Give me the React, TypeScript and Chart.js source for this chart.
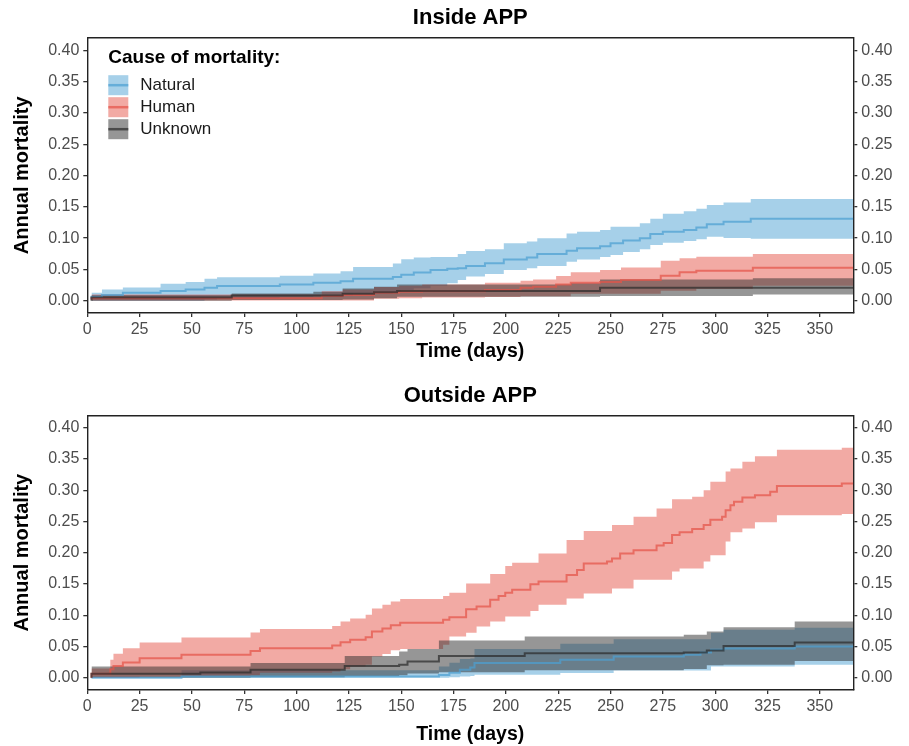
import React, { useEffect, useRef } from 'react';
import { Chart, registerables } from 'chart.js';

Chart.register(...registerables);

const FONT = "'Liberation Sans', Arial, Helvetica, sans-serif";

const X_MAX = 366;
const Y_MIN = -0.0196;
const Y_MAX = 0.42;
const xTicks = [0, 25, 50, 75, 100, 125, 150, 175, 200, 225, 250, 275, 300, 325, 350];
const yTicks = [0, 0.05, 0.1, 0.15, 0.2, 0.25, 0.3, 0.35, 0.4];

const causeLabels = ['Natural', 'Human', 'Unknown'];
const legendTitle = 'Cause of mortality:';
const panelTitles = ['Inside APP', 'Outside APP'];
const xTitle = 'Time (days)';
const yTitle = 'Annual mortality';

// ---------- Inside APP ----------
const inNatT = [2, 7, 17, 35, 47, 56, 62, 92, 108, 121, 127, 146, 150, 156, 164, 172, 177, 181, 190, 199, 210, 215, 229, 234, 245, 250, 256, 264, 269, 275, 285, 291, 296, 304, 317, 324];
const inNatEst = [0.003, 0.0064, 0.009, 0.0128, 0.0155, 0.018, 0.0208, 0.0235, 0.026, 0.0288, 0.031, 0.035, 0.038, 0.0415, 0.045, 0.049, 0.051, 0.052, 0.0554, 0.0597, 0.066, 0.069, 0.0746, 0.08, 0.0837, 0.087, 0.0917, 0.096, 0.0997, 0.1066, 0.11, 0.113, 0.117, 0.122, 0.126, 0.131];
const inNatHi = [0.0075, 0.0128, 0.018, 0.021, 0.027, 0.03, 0.035, 0.0375, 0.04, 0.0435, 0.047, 0.054, 0.0595, 0.0661, 0.069, 0.07, 0.07, 0.0746, 0.0795, 0.082, 0.0917, 0.0944, 0.0997, 0.1075, 0.11, 0.113, 0.118, 0.118, 0.1236, 0.131, 0.139, 0.143, 0.147, 0.153, 0.157, 0.1625];
const inNatLo = [0, 0, 0, 0, 0, 0, 0.002, 0.004, 0.006, 0.007, 0.008, 0.011, 0.014, 0.017, 0.02, 0.024, 0.028, 0.0331, 0.0385, 0.0427, 0.049, 0.052, 0.0554, 0.0623, 0.066, 0.07, 0.0729, 0.078, 0.082, 0.089, 0.0927, 0.0954, 0.098, 0.102, 0.1, 0.099];

const inHumT = [2, 112, 122, 137, 149, 160, 190, 207, 213, 224, 231, 245, 255, 274, 283, 291, 318, 334];
const inHumEst = [0.0015, 0.004, 0.0075, 0.009, 0.0128, 0.0144, 0.015, 0.017, 0.0208, 0.0224, 0.026, 0.0288, 0.03, 0.033, 0.04, 0.0453, 0.048, 0.0527];
const inHumHi = [0.006, 0.01, 0.015, 0.018, 0.022, 0.024, 0.026, 0.0288, 0.032, 0.034, 0.0396, 0.0453, 0.049, 0.053, 0.064, 0.0677, 0.0703, 0.0746];
const inHumLo = [0, 0.0005, 0.0005, 0.0005, 0.003, 0.004, 0.005, 0.006, 0.007, 0.007, 0.007, 0.011, 0.011, 0.011, 0.016, 0.016, 0.019, 0.024];

const inUnkT = [2, 69, 108, 122, 137, 148, 231, 245, 318, 345];
const inUnkEst = [0, 0.005, 0.0085, 0.0085, 0.011, 0.0134, 0.0155, 0.0155, 0.0208, 0.0208];
const inUnkHi = [0.001, 0.0086, 0.0117, 0.0144, 0.0197, 0.0224, 0.026, 0.028, 0.034, 0.036];
const inUnkLo = [0, 0, 0.001, 0.001, 0.002, 0.0038, 0.0065, 0.0065, 0.0077, 0.01];

// ---------- Outside APP ----------
const outNatT = [2, 45, 168, 173, 178, 183, 185, 226, 251.5, 285, 293, 298, 304, 338, 350];
const outNatEst = [0, 0, 0.002, 0.0043, 0.008, 0.0128, 0.0165, 0.0235, 0.0288, 0.034, 0.037, 0.0405, 0.045, 0.047, 0.05];
const outNatHi = [0, 0.002, 0.012, 0.018, 0.024, 0.03, 0.031, 0.046, 0.0544, 0.0618, 0.0618, 0.0618, 0.072, 0.0767, 0.08];
const outNatLo = [0, 0, 0, 0, 0.001, 0.002, 0.003, 0.0048, 0.0075, 0.0117, 0.0117, 0.0117, 0.018, 0.018, 0.021];

const outHumT = [2, 11, 12.5, 17, 25, 45, 78, 82.5, 117, 121, 125.6, 133, 136, 141, 145, 149.5, 170, 173, 181, 186, 192.5, 196.5, 199.7, 203, 211.7, 215.6, 229, 234, 237.2, 248.3, 250.7, 254.6, 261, 272, 275.4, 279.4, 283, 289, 294.5, 297.7, 303.3, 305, 307.3, 309, 313, 319, 326.3, 329.5, 360.5, 364.5];
const outHumEst = [0, 0.0064, 0.0138, 0.019, 0.0245, 0.0314, 0.0367, 0.043, 0.0474, 0.0516, 0.057, 0.0607, 0.065, 0.074, 0.0788, 0.0841, 0.088, 0.0927, 0.097, 0.1097, 0.114, 0.125, 0.131, 0.136, 0.141, 0.1497, 0.154, 0.1645, 0.1725, 0.183, 0.186, 0.191, 0.199, 0.204, 0.2117, 0.2155, 0.2284, 0.2327, 0.238, 0.2444, 0.253, 0.2577, 0.268, 0.276, 0.2817, 0.2886, 0.292, 0.2977, 0.3067, 0.311];
const outHumHi = [0.002, 0.015, 0.0288, 0.0383, 0.0474, 0.0564, 0.0644, 0.0724, 0.078, 0.083, 0.09, 0.095, 0.101, 0.111, 0.117, 0.122, 0.126, 0.131, 0.136, 0.151, 0.151, 0.166, 0.166, 0.1789, 0.184, 0.184, 0.199, 0.2204, 0.2204, 0.2348, 0.2348, 0.2444, 0.2444, 0.2577, 0.271, 0.271, 0.2855, 0.2855, 0.2897, 0.3, 0.3136, 0.3136, 0.33, 0.3349, 0.3349, 0.3455, 0.3545, 0.3545, 0.365, 0.368];
const outHumLo = [0, 0, 0, 0, 0, 0.0016, 0.003, 0.004, 0.008, 0.01, 0.0138, 0.018, 0.021, 0.034, 0.038, 0.044, 0.046, 0.053, 0.066, 0.072, 0.082, 0.09, 0.09, 0.098, 0.098, 0.107, 0.117, 0.127, 0.127, 0.135, 0.135, 0.143, 0.143, 0.157, 0.157, 0.157, 0.17, 0.175, 0.175, 0.186, 0.196, 0.196, 0.218, 0.233, 0.233, 0.239, 0.249, 0.249, 0.26, 0.262];

const outUnkT = [2, 54, 78, 123, 149, 153, 168, 209, 285, 296, 304, 338, 364];
const outUnkEst = [0, 0.0064, 0.0085, 0.0128, 0.019, 0.0208, 0.026, 0.035, 0.0394, 0.0405, 0.0437, 0.051, 0.0565];
const outUnkHi = [0.001, 0.018, 0.018, 0.0235, 0.035, 0.042, 0.046, 0.0596, 0.066, 0.0687, 0.074, 0.081, 0.09];
const outUnkLo = [0, 0, 0, 0.001, 0.003, 0.004, 0.007, 0.009, 0.012, 0.014, 0.02, 0.021, 0.027];

// ---------- styles ----------
const causeBase = [
  [77, 161, 211],
  [229, 85, 73],
  [45, 45, 45],
];
const bandColor = (k: number) => `rgba(${causeBase[k][0]},${causeBase[k][1]},${causeBase[k][2]},0.5)`;
const lineColor = (k: number) => `rgba(${causeBase[k][0]},${causeBase[k][1]},${causeBase[k][2]},0.72)`;

function steps(t: number[], v: number[]) {
  const pts = t.map((x, i) => ({ x, y: v[i] }));
  pts.push({ x: X_MAX, y: v[v.length - 1] });
  return pts;
}

const legendPlugin = {
  id: 'causeLegend',
  afterDraw(chart: any, _args: any, opts: any) {
    if (!opts || !opts.display) return;
    const ctx = chart.ctx;
    const { left, top } = chart.chartArea;
    const x0 = left + 21;
    ctx.save();
    ctx.textBaseline = 'middle';
    ctx.textAlign = 'left';
    ctx.fillStyle = '#000';
    ctx.font = `bold 19px ${FONT}`;
    ctx.fillText(legendTitle, x0, top + 20);
    causeLabels.forEach((lab, k) => {
      const y = top + 37.5 + k * 22;
      ctx.fillStyle = '#fff';
      ctx.fillRect(x0, y, 20, 20);
      ctx.fillStyle = bandColor(k);
      ctx.fillRect(x0, y, 20, 20);
      ctx.strokeStyle = lineColor(k);
      ctx.lineWidth = 2.5;
      ctx.beginPath();
      ctx.moveTo(x0, y + 10);
      ctx.lineTo(x0 + 20, y + 10);
      ctx.stroke();
      ctx.fillStyle = '#1a1a1a';
      ctx.font = `17px ${FONT}`;
      ctx.fillText(lab, x0 + 32, y + 10.5);
    });
    ctx.restore();
  },
};

type Series = { t: number[]; est: number[]; lo: number[]; hi: number[] };
type PanelCfg = {
  title: string;
  series: Series[];
  legend: boolean;
  top: number;
  height: number;
  topH: number;
  titlePad: number;
  xAxisH: number;
  xTitlePad: number;
};

const PLOT_LEFT = 87.3;
const PLOT_RIGHT = 853.3;
const W = 909;

function buildConfig(p: PanelCfg): any {
  const datasets: any[] = [];
  p.series.forEach((s, k) => {
    datasets.push({
      label: causeLabels[k] + ' lower',
      data: steps(s.t, s.lo),
      stepped: 'after',
      borderWidth: 0,
      pointRadius: 0,
      fill: false,
      order: 30 - k * 10,
    });
    datasets.push({
      label: causeLabels[k] + ' upper',
      data: steps(s.t, s.hi),
      stepped: 'after',
      borderWidth: 0,
      pointRadius: 0,
      fill: '-1',
      backgroundColor: bandColor(k),
      order: 30 - k * 10,
    });
  });
  p.series.forEach((s, k) => {
    datasets.push({
      label: causeLabels[k],
      data: steps(s.t, s.est),
      stepped: 'after',
      borderColor: lineColor(k),
      borderWidth: 2,
      pointRadius: 0,
      fill: false,
      order: 3 - k,
    });
  });

  const tickGrid = {
    display: true,
    drawOnChartArea: false,
    drawTicks: true,
    tickLength: 4,
    color: '#333',
    lineWidth: 1.3,
  };
  const border = { display: true, color: '#222', width: 1.4 };
  const tickFont = { family: FONT, size: 16 };
  const yCommon = {
    type: 'linear',
    min: Y_MIN,
    max: Y_MAX,
    bounds: 'data',
    afterBuildTicks: (s: any) => {
      s.ticks = yTicks.map((v) => ({ value: v }));
    },
    grid: tickGrid,
    border,
    ticks: {
      font: tickFont,
      color: '#4d4d4d',
      padding: 4,
      autoSkip: false,
      callback: (v: any) => Number(v).toFixed(2),
    },
  };

  return {
    type: 'line',
    data: { datasets },
    plugins: [legendPlugin],
    options: {
      responsive: false,
      animation: false,
      devicePixelRatio: 1,
      events: [],
      parsing: true,
      layout: { padding: 0 },
      plugins: {
        legend: { display: false },
        tooltip: { enabled: false },
        title: { display: false },
        causeLegend: { display: p.legend },
      },
      scales: {
        x: {
          type: 'linear',
          position: 'bottom',
          min: 0,
          max: X_MAX,
          bounds: 'data',
          afterBuildTicks: (s: any) => {
            s.ticks = xTicks.map((v) => ({ value: v }));
          },
          afterFit: (s: any) => {
            s.height = p.xAxisH;
          },
          grid: tickGrid,
          border,
          ticks: {
            font: tickFont,
            color: '#4d4d4d',
            padding: 3,
            maxRotation: 0,
            autoSkip: false,
            callback: (v: any) => String(v),
          },
          title: {
            display: true,
            text: xTitle,
            color: '#000',
            font: { family: FONT, size: 19.5, weight: 'bold' },
            padding: { top: 0, bottom: p.xTitlePad },
          },
        },
        x2: {
          type: 'linear',
          position: 'top',
          min: 0,
          max: X_MAX,
          afterFit: (s: any) => {
            s.height = p.topH;
          },
          grid: { display: false, drawTicks: false },
          border,
          ticks: { display: false },
          title: {
            display: true,
            text: p.title,
            color: '#000',
            font: { family: FONT, size: 22, weight: 'bold' },
            padding: { top: p.titlePad, bottom: 0 },
          },
        },
        y: {
          ...yCommon,
          position: 'left',
          afterFit: (s: any) => {
            s.width = PLOT_LEFT;
          },
          title: {
            display: true,
            text: yTitle,
            color: '#000',
            font: { family: FONT, size: 20, weight: 'bold' },
            padding: { top: 10, bottom: 0 },
          },
        },
        y2: {
          ...yCommon,
          position: 'right',
          afterFit: (s: any) => {
            s.width = W - PLOT_RIGHT;
          },
        },
      },
    },
  };
}

function Panel({ cfg }: { cfg: PanelCfg }) {
  const ref = useRef<HTMLCanvasElement | null>(null);
  useEffect(() => {
    if (!ref.current) return;
    const chart = new Chart(ref.current, buildConfig(cfg));
    return () => chart.destroy();
  }, []);
  return (
    <canvas
      ref={ref}
      width={W}
      height={cfg.height}
      style={{ position: 'absolute', left: 0, top: cfg.top, width: W, height: cfg.height, display: 'block' }}
    />
  );
}

const panels: PanelCfg[] = [
  {
    title: panelTitles[0],
    series: [
      { t: inNatT, est: inNatEst, lo: inNatLo, hi: inNatHi },
      { t: inHumT, est: inHumEst, lo: inHumLo, hi: inHumHi },
      { t: inUnkT, est: inUnkEst, lo: inUnkLo, hi: inUnkHi },
    ],
    legend: true,
    top: 0,
    height: 373,
    topH: 37.7,
    titlePad: 4.8,
    xAxisH: 60,
    xTitlePad: 9.3,
  },
  {
    title: panelTitles[1],
    series: [
      { t: outNatT, est: outNatEst, lo: outNatLo, hi: outNatHi },
      { t: outHumT, est: outHumEst, lo: outHumLo, hi: outHumHi },
      { t: outUnkT, est: outUnkEst, lo: outUnkLo, hi: outUnkHi },
    ],
    legend: false,
    top: 373,
    height: 373,
    topH: 42.3,
    titlePad: 9.8,
    xAxisH: 56,
    xTitlePad: 0,
  },
];

export default function App() {
  return (
    <div style={{ position: 'fixed', left: 0, top: 0, width: W, height: 746, background: '#fff', overflow: 'hidden' }}>
      {panels.map((p, i) => (
        <Panel key={i} cfg={p} />
      ))}
    </div>
  );
}
